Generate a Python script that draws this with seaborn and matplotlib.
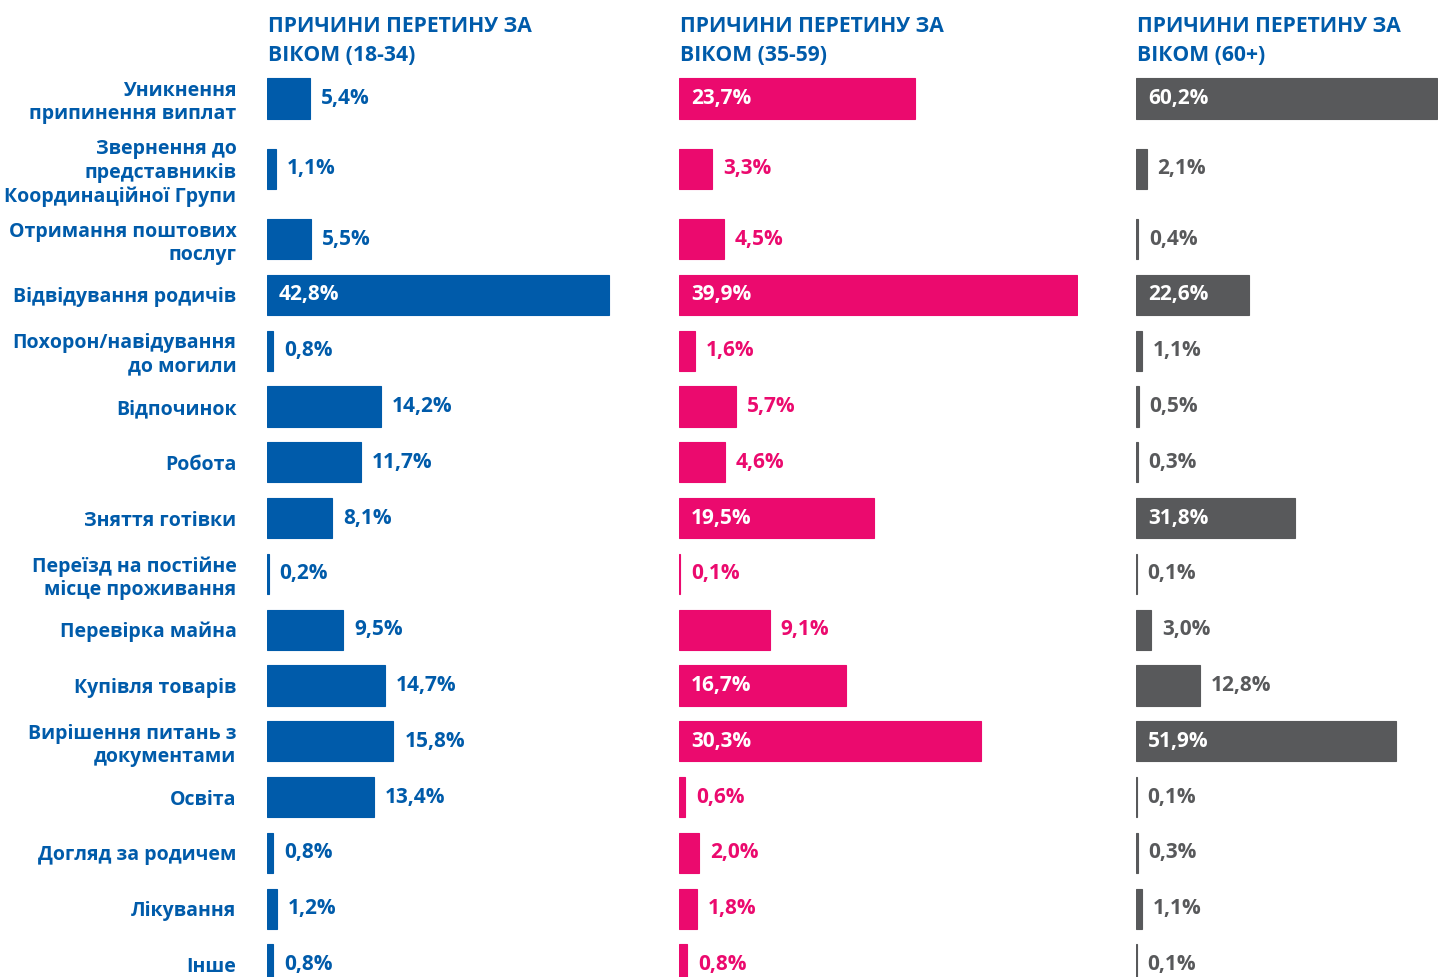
import numpy as np
import pandas as pd
import matplotlib.pyplot as plt
import seaborn as sns

# Reasons for crossing, by age group (values in %)
categories = [
    "Уникнення\nприпинення виплат",
    "Звернення до\nпредставників\nКоординаційної Групи",
    "Отримання поштових\nпослуг",
    "Відвідування родичів",
    "Похорон/навідування\nдо могили",
    "Відпочинок",
    "Робота",
    "Зняття готівки",
    "Переїзд на постійне\nмісце проживання",
    "Перевірка майна",
    "Купівля товарів",
    "Вирішення питань з\nдокументами",
    "Освіта",
    "Догляд за родичем",
    "Лікування",
    "Інше",
]
age_18_34 = [5.4, 1.1, 5.5, 42.8, 0.8, 14.2, 11.7, 8.1, 0.2, 9.5, 14.7, 15.8, 13.4, 0.8, 1.2, 0.8]
age_35_59 = [23.7, 3.3, 4.5, 39.9, 1.6, 5.7, 4.6, 19.5, 0.1, 9.1, 16.7, 30.3, 0.6, 2.0, 1.8, 0.8]
age_60 = [60.2, 2.1, 0.4, 22.6, 1.1, 0.5, 0.3, 31.8, 0.1, 3.0, 12.8, 51.9, 0.1, 0.3, 1.1, 0.1]
titles = ["ПРИЧИНИ ПЕРЕТИНУ ЗА\nВІКОМ (18-34)",
          "ПРИЧИНИ ПЕРЕТИНУ ЗА\nВІКОМ (35-59)",
          "ПРИЧИНИ ПЕРЕТИНУ ЗА\nВІКОМ (60+)"]

BLUE = "#005BAA"
PINK = "#EB0A6E"
GREY = "#58595B"

sns.set_theme(style="white")
plt.rcParams["font.family"] = ["Open Sans", "DejaVu Sans"]

W, H = 1438, 977
fig = plt.figure(figsize=(W / 100, H / 100), dpi=100)

# row positions: extra room around the three-line label
nlines = [c.count("\n") + 1 for c in categories]
ypos = [0.0]
for i in range(1, len(categories)):
    gap = 1.0 + 0.26 * (nlines[i - 1] > 2) + 0.26 * (nlines[i] > 2)
    ypos.append(ypos[-1] + gap)

row_px = 55.8
top_px = 98.5 - 0.5 * row_px
y_bottom = -0.5 + (H - top_px) / row_px

# (left px, width px, xmax, colour, values)
panels = [
    (267, 400, 50.0, BLUE, age_18_34),
    (679, 399, 40.0, PINK, age_35_59),
    (1136, 302, 60.4, GREY, age_60),
]

for k, (left, width, xmax, col, vals) in enumerate(panels):
    ax = fig.add_axes([left / W, 0, width / W, (H - top_px) / H])
    df = pd.DataFrame({"value": vals, "pos": ypos})
    sns.barplot(data=df, x="value", y="pos", orient="y", native_scale=True,
                color=col, saturation=1, errorbar=None, width=0.72,
                edgecolor=col, linewidth=0.8, ax=ax)
    ax.set_xlim(0, xmax)
    ax.set_ylim(y_bottom, -0.5)
    ax.set_xlabel("")
    ax.set_ylabel("")
    ax.set_xticks([])
    for s in ax.spines.values():
        s.set_visible(False)
    ax.grid(False)

    px = xmax / width  # data units per pixel
    for v, y in zip(vals, ypos):
        txt = f"{v:.1f}".replace(".", ",") + "%"
        if v > 16:
            ax.text(12 * px, y, txt, color="white", fontsize=15,
                    fontweight="bold", va="center", ha="left")
        else:
            ax.text(v + 11 * px, y, txt, color=col, fontsize=15,
                    fontweight="bold", va="center", ha="left", clip_on=False)

    if k == 0:
        ax.set_yticks(ypos)
        ax.set_yticklabels(categories, fontsize=14, fontweight="bold",
                           color=BLUE, linespacing=1.22)
        ax.tick_params(axis="y", length=0, pad=22)
        for lab in ax.get_yticklabels():
            lab.set_verticalalignment("center_baseline")
    else:
        ax.set_yticks([])

    fig.text((left + 1) / W, 1 - 16 / H, titles[k], color=BLUE, fontsize=15.2,
             fontweight="bold", va="top", ha="left", linespacing=1.48)

fig.savefig("out.png", dpi=100)
